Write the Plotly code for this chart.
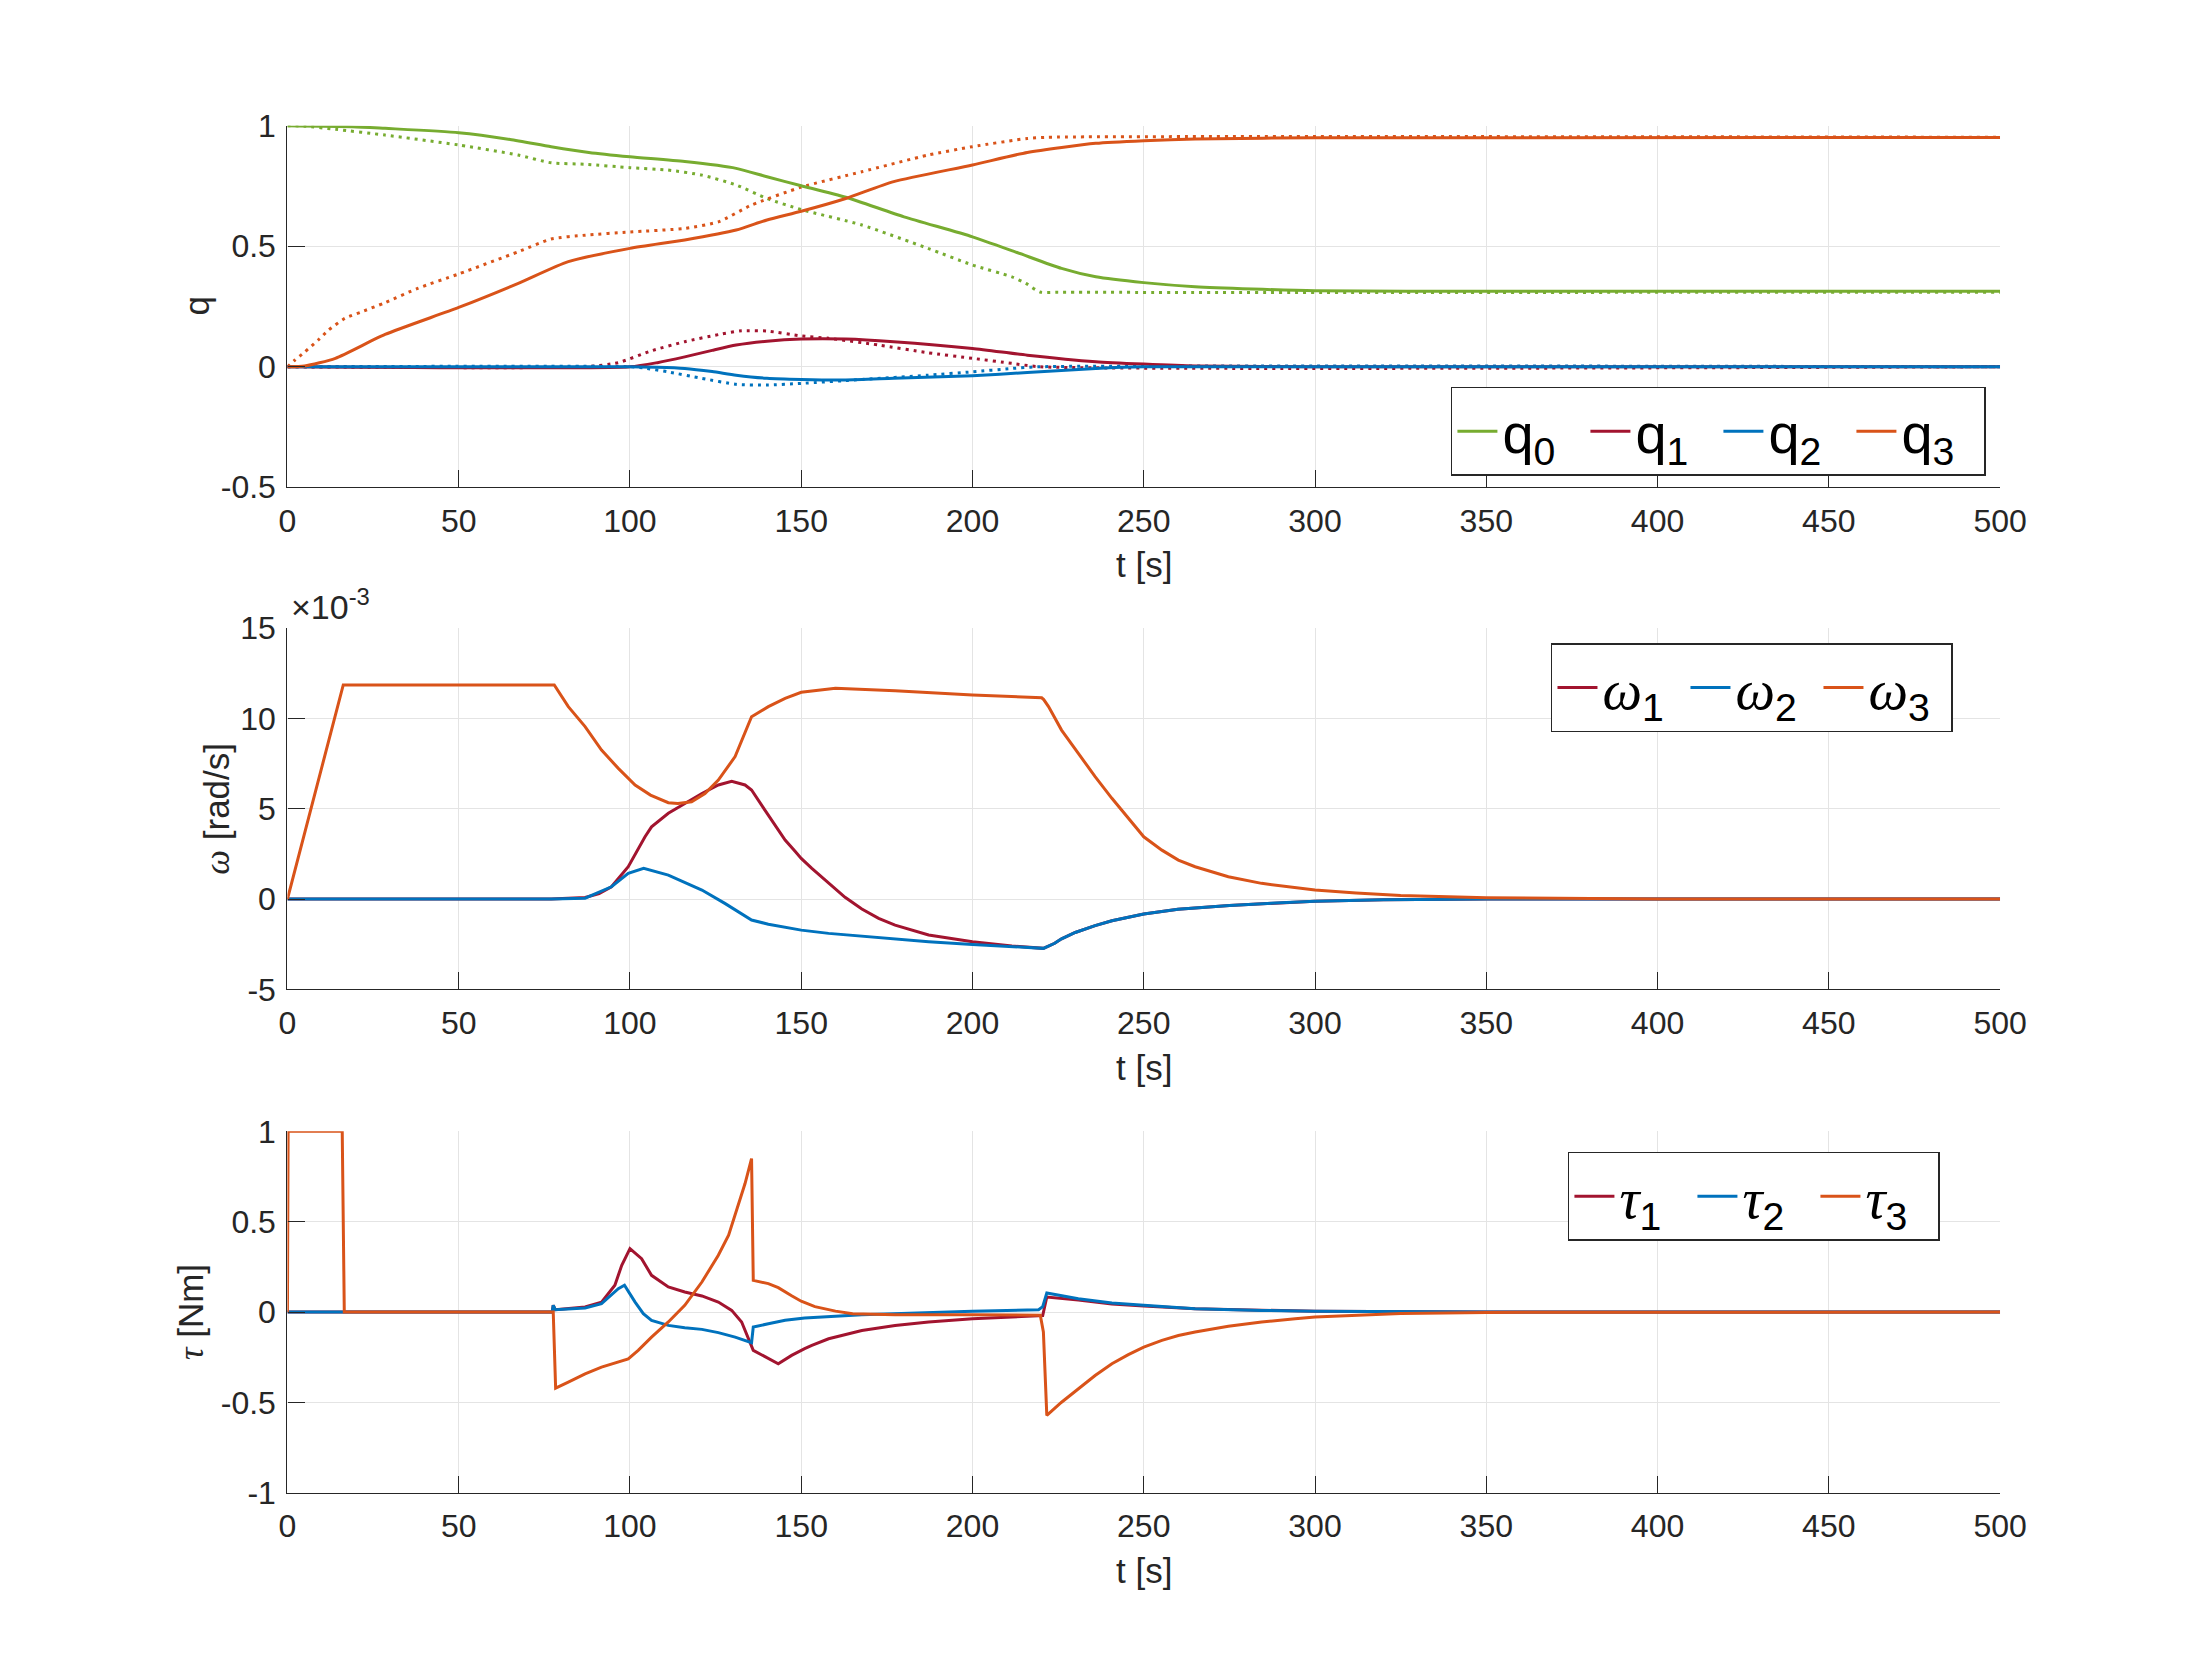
import plotly.graph_objects as go

# ---------------- data ----------------
# Quaternion panel: solid = actual, dotted = reference
t_q0 = [0, 19, 28.5, 50, 65, 77, 88, 100, 116, 131, 140, 150, 163, 180, 200, 213, 226, 236, 250, 265, 300, 350, 500]
q0 = [1.0, 0.996, 0.989, 0.971, 0.943, 0.913, 0.889, 0.871, 0.851, 0.823, 0.788, 0.751, 0.703, 0.622, 0.539, 0.474, 0.408, 0.373, 0.349, 0.332, 0.315, 0.313, 0.313]
t_q0r = [0, 5, 14, 28.5, 50, 67.4, 77, 87, 100, 111, 121, 131, 140, 150, 167.7, 187, 200, 211.5, 215.6, 219.7, 225, 500]
q0r = [1.0, 0.998, 0.985, 0.961, 0.920, 0.878, 0.846, 0.840, 0.826, 0.816, 0.795, 0.754, 0.698, 0.652, 0.588, 0.491, 0.422, 0.373, 0.346, 0.310, 0.309, 0.309]

t_q1 = [0, 100, 108, 116, 124, 131, 140, 150, 163, 177, 200, 216, 236, 250, 265, 300, 500]
q1 = [0, 0, 0.017, 0.041, 0.068, 0.090, 0.106, 0.115, 0.115, 0.104, 0.076, 0.048, 0.021, 0.011, 0.003, 0, 0]
t_q1r = [0, 87, 96.6, 106, 116, 126, 132.6, 140, 150, 158, 172.6, 187, 200, 211.5, 219.7, 500]
q1r = [0, 0, 0.017, 0.065, 0.104, 0.134, 0.149, 0.148, 0.128, 0.118, 0.090, 0.058, 0.035, 0.014, 0, 0]

t_q2 = [0, 100, 108, 116, 124, 131, 140, 150, 163, 177, 200, 216, 236, 250, 500]
q2 = [0, 0, -0.002, -0.007, -0.020, -0.035, -0.048, -0.053, -0.055, -0.048, -0.037, -0.024, -0.007, 0, 0]
t_q2r = [0, 100, 104, 111, 121, 131, 140, 150, 167.7, 187, 200, 211.5, 219.7, 500]
q2r = [0, 0, -0.005, -0.021, -0.048, -0.073, -0.076, -0.069, -0.053, -0.035, -0.021, -0.007, 0, 0]

t_q3 = [0, 5, 14, 28.5, 50, 67.4, 82, 100, 116, 131, 140, 150, 163, 177, 200, 216, 236, 250, 265, 300, 500]
q3 = [0, 0.003, 0.035, 0.134, 0.246, 0.346, 0.436, 0.491, 0.526, 0.567, 0.609, 0.645, 0.698, 0.768, 0.837, 0.889, 0.927, 0.938, 0.945, 0.950, 0.951]
t_q3r = [0, 2.2, 5.1, 9, 12, 16.8, 21.7, 28.5, 38, 50, 67.4, 77, 87, 100, 116, 126, 135.5, 150, 167.7, 187, 200, 216, 222, 500]
q3r = [0, 0.028, 0.062, 0.111, 0.152, 0.201, 0.228, 0.266, 0.325, 0.385, 0.477, 0.530, 0.546, 0.559, 0.574, 0.602, 0.671, 0.745, 0.809, 0.878, 0.913, 0.947, 0.952, 0.952]

# Angular rate panel (units of 1e-3 rad/s)
t_w1 = [0, 77, 86.9, 91, 94.6, 99.5, 104.4, 106.3, 111.2, 116, 121, 125.8, 129.7, 133.6, 135.5, 139.4, 145.3, 148.2, 150, 153.1, 158, 162.8, 167.7, 172.6, 177.4, 187.2, 200, 211.5, 220.7,
        224, 226, 230, 235.8, 240.7, 250, 260, 275, 290, 300, 320, 350, 500]
w1 = [0, 0, 0.09, 0.30, 0.68, 1.79, 3.45, 4.00, 4.75, 5.30, 5.85, 6.32, 6.52, 6.32, 6.04, 4.93, 3.27, 2.65, 2.25, 1.70, 0.87, 0.10, -0.55, -1.07, -1.44, -1.99, -2.36, -2.60, -2.73,
      -2.45, -2.20, -1.85, -1.47, -1.20, -0.83, -0.57, -0.35, -0.20, -0.12, -0.04, 0, 0]
t_w2 = [0, 77, 86.9, 94.6, 99.5, 104, 111.2, 121, 127.7, 135.5, 140.4, 145.3, 150, 158, 167.7, 177.4, 187.2, 200, 211.5, 220.7,
        224, 226, 230, 235.8, 240.7, 250, 260, 275, 290, 300, 320, 350, 500]
w2 = [0, 0, 0.05, 0.68, 1.42, 1.70, 1.33, 0.50, -0.24, -1.16, -1.39, -1.56, -1.72, -1.90, -2.05, -2.22, -2.36, -2.51, -2.64, -2.73,
      -2.45, -2.20, -1.85, -1.47, -1.20, -0.83, -0.57, -0.35, -0.20, -0.12, -0.04, 0, 0]
t_w3 = [0, 16.3, 77.9, 82, 86.9, 91.7, 96.6, 101.5, 106, 111.2, 114, 118, 121.9, 125.8, 130.7, 135.5, 140.4, 145.3, 150, 160, 177.4, 200, 220.2, 220.8,
        222.2, 224.1, 226, 230.9, 235.8, 240.7, 245.5, 250, 255.3, 260.1, 265, 274.7, 284.4, 294.2, 300, 312, 325, 350, 375, 400, 500]
w3 = [0, 11.86, 11.86, 10.66, 9.55, 8.25, 7.24, 6.32, 5.76, 5.34, 5.30, 5.39, 5.85, 6.59, 7.89, 10.10, 10.66, 11.12, 11.45, 11.67, 11.54, 11.30, 11.15, 11.05,
      10.66, 10.01, 9.36, 8.07, 6.78, 5.58, 4.47, 3.45, 2.71, 2.16, 1.79, 1.24, 0.87, 0.63, 0.50, 0.33, 0.20, 0.07, 0.02, 0, 0]

# Torque panel (Nm)
t_u1 = [0, 77.3, 77.6, 78.2, 86.9, 91.7, 95.6, 97.6, 100, 103.4, 106.3, 111.2, 116, 121, 125.8, 129.7, 132.6, 135, 136, 143.3, 147.2, 151, 153.1, 158, 162.8, 167.7, 177.4, 187.2, 200, 218.3, 220.5, 221.7,
        230.9, 240.7, 250, 265, 284.4, 300, 350, 500]
u1 = [0, 0, 0.037, 0.013, 0.028, 0.055, 0.148, 0.259, 0.351, 0.295, 0.203, 0.139, 0.111, 0.089, 0.055, 0.009, -0.055, -0.166, -0.212, -0.286, -0.240, -0.203, -0.185, -0.148, -0.124, -0.102, -0.074, -0.055, -0.037, -0.024, -0.020, 0.083,
      0.067, 0.045, 0.033, 0.018, 0.009, 0.004, 0, 0]
t_u2 = [0, 77.3, 77.6, 78.2, 86.9, 91.7, 96.6, 98.4, 101.5, 103.9, 106.3, 111.2, 116, 121, 125.8, 130.7, 135.5, 136, 140.4, 145.3, 151, 167.7, 200, 219.3, 220.5, 221.7,
        230.9, 240.7, 250, 265, 284.4, 300, 350, 500]
u2 = [0, 0, 0.037, 0.013, 0.022, 0.046, 0.129, 0.148, 0.055, -0.009, -0.046, -0.074, -0.087, -0.096, -0.114, -0.139, -0.170, -0.083, -0.065, -0.046, -0.033, -0.015, 0.004, 0.013, 0.030, 0.105,
      0.074, 0.050, 0.037, 0.018, 0.009, 0.004, 0, 0]
t_u3 = [0, 0.2, 16.0, 16.6, 77.6, 78.3, 82, 86.9, 91.7, 96.6, 99.5, 102.4, 106.3, 111.2, 116, 121, 125.8, 128.8, 130.7, 133.6, 135.5, 136.0, 140.4, 143.3, 147.2, 150, 154, 160, 165, 177.4, 200, 218.3, 219.8, 220.7, 221.7,
        226, 230.9, 235.8, 240.7, 245.5, 250, 255.3, 260.1, 265, 274.7, 284.4, 294.2, 300, 325, 350, 500]
u3 = [0, 1, 1, 0, 0, -0.421, -0.388, -0.342, -0.305, -0.277, -0.259, -0.212, -0.139, -0.055, 0.037, 0.166, 0.314, 0.425, 0.536, 0.711, 0.849, 0.175, 0.157, 0.135, 0.090, 0.060, 0.030, 0.005, -0.010, -0.015, -0.015, -0.017, -0.018, -0.110, -0.572,
      -0.499, -0.425, -0.351, -0.286, -0.236, -0.194, -0.157, -0.130, -0.111, -0.079, -0.055, -0.037, -0.028, -0.008, -0.002, 0]

x_ticks = [0, 50, 100, 150, 200, 250, 300, 350, 400, 450, 500]
x_ticktext = ["0", "50", "100", "150", "200", "250", "300", "350", "400", "450", "500"]
q_ticks = [-0.5, 0, 0.5, 1]
q_ticktext = ["-0.5", "0", "0.5", "1"]
w_ticks = [-5, 0, 5, 10, 15]
w_ticktext = ["-5", "0", "5", "10", "15"]
u_ticks = [-1, -0.5, 0, 0.5, 1]
u_ticktext = ["-1", "-0.5", "0", "0.5", "1"]

# ---------------- styling ----------------
C0 = "#77AC30"
C1 = "#A2142F"
C2 = "#0072BD"
C3 = "#D95319"
AX = "#262626"
GRID = "#e4e4e4"
FONT = "Liberation Sans"
SERIF = "Liberation Serif"
LW = 3
DOT = "3px,5px"

fig = go.Figure()


def add(x, y, color, xa, ya, name=None, legend=None, dash=None, shape="linear"):
    fig.add_trace(go.Scatter(
        x=x, y=y, mode="lines", name=name or "",
        line=dict(color=color, width=LW, dash=dash, shape=shape, smoothing=0.6),
        xaxis=xa, yaxis=ya, showlegend=name is not None,
        legend=legend, hoverinfo="skip"))


# Panel 1 (dotted references first, solid on top)
add(t_q0r, q0r, C0, "x", "y", dash=DOT, shape="spline")
add(t_q1r, q1r, C1, "x", "y", dash=DOT, shape="spline")
add(t_q2r, q2r, C2, "x", "y", dash=DOT, shape="spline")
add(t_q3r, q3r, C3, "x", "y", dash=DOT, shape="spline")
add(t_q0, q0, C0, "x", "y", "q<sub>0</sub>", "legend", shape="spline")
add(t_q1, q1, C1, "x", "y", "q<sub>1</sub>", "legend", shape="spline")
add(t_q2, q2, C2, "x", "y", "q<sub>2</sub>", "legend", shape="spline")
add(t_q3, q3, C3, "x", "y", "q<sub>3</sub>", "legend", shape="spline")

sym_w = "<span style=\"font-family:'%s'\"><i>ω</i></span>" % SERIF
sym_t = "<span style=\"font-family:'%s'\"><i>τ</i></span>" % SERIF

# Panel 2
add(t_w1, w1, C1, "x2", "y2", sym_w + "<sub>1</sub>", "legend2")
add(t_w2, w2, C2, "x2", "y2", sym_w + "<sub>2</sub>", "legend2")
add(t_w3, w3, C3, "x2", "y2", sym_w + "<sub>3</sub>", "legend2")

# Panel 3
add(t_u1, u1, C1, "x3", "y3", sym_t + "<sub>1</sub>", "legend3")
add(t_u2, u2, C2, "x3", "y3", sym_t + "<sub>2</sub>", "legend3")
add(t_u3, u3, C3, "x3", "y3", sym_t + "<sub>3</sub>", "legend3")

XD = [0.1300, 0.9046]
DOMS = [[0.7096, 0.9251], [0.4104, 0.6256], [0.1104, 0.3258]]


def xaxis(anchor):
    return dict(domain=XD, range=[0, 500], anchor=anchor, tickmode="array",
                tickvals=x_ticks, ticktext=x_ticktext, ticks="inside", ticklen=17,
                tickwidth=1.3, tickcolor=AX, showline=True, linecolor=AX, linewidth=1.3,
                showgrid=True, gridcolor=GRID, gridwidth=1.3, zeroline=False,
                ticklabelstandoff=5,
                automargin=False, tickfont=dict(family=FONT, size=32, color=AX))


def yaxis(anchor, dom, rng, tv, tt):
    return dict(domain=dom, range=rng, anchor=anchor, tickmode="array",
                tickvals=tv, ticktext=tt, ticks="inside", ticklen=17,
                tickwidth=1.3, tickcolor=AX, showline=True, linecolor=AX, linewidth=1.3,
                showgrid=True, gridcolor=GRID, gridwidth=1.3, zeroline=False,
                ticklabelstandoff=4,
                automargin=False, tickfont=dict(family=FONT, size=32, color=AX))


def leg(xr, yt, ew):
    return dict(x=xr, y=yt, xanchor="right", yanchor="top", orientation="h",
                bgcolor="white", bordercolor=AX, borderwidth=1.5,
                entrywidth=ew, entrywidthmode="pixels", itemwidth=40,
                font=dict(family=FONT, size=56, color="black"))


annotations = []
for yc in [0.6633, 0.3641, 0.0638]:
    annotations.append(dict(text="t [s]", x=0.5173, y=yc, xref="paper", yref="paper",
                            xanchor="center", yanchor="middle", showarrow=False,
                            font=dict(family=FONT, size=35, color=AX)))
annotations.append(dict(text="q", x=0.0891, y=0.8173, xref="paper", yref="paper",
                        xanchor="center", yanchor="middle", textangle=-90, showarrow=False,
                        font=dict(family=FONT, size=35, color=AX)))
annotations.append(dict(text=sym_w + " [rad/s]", x=0.0981, y=0.518, xref="paper", yref="paper",
                        xanchor="center", yanchor="middle", textangle=-90, showarrow=False,
                        font=dict(family=FONT, size=35, color=AX)))
annotations.append(dict(text=sym_t + " [Nm]", x=0.0864, y=0.2181, xref="paper", yref="paper",
                        xanchor="center", yanchor="middle", textangle=-90, showarrow=False,
                        font=dict(family=FONT, size=35, color=AX)))
annotations.append(dict(text="×10<sup>-3</sup>", x=0.1305, y=0.6257, xref="paper", yref="paper",
                        xanchor="left", yanchor="bottom", showarrow=False,
                        font=dict(family=FONT, size=34, color=AX)))

fig.update_layout(
    width=2211, height=1678,
    margin=dict(l=0, r=0, t=0, b=0, pad=0, autoexpand=False),
    paper_bgcolor="white", plot_bgcolor="white",
    xaxis=xaxis("y"), xaxis2=xaxis("y2"), xaxis3=xaxis("y3"),
    yaxis=yaxis("x", DOMS[0], [-0.5, 1], q_ticks, q_ticktext),
    yaxis2=yaxis("x2", DOMS[1], [-5, 15], w_ticks, w_ticktext),
    yaxis3=yaxis("x3", DOMS[2], [-1, 1], u_ticks, u_ticktext),
    legend=leg(0.8982, 0.7694, 78),
    legend2=leg(0.8833, 0.6168, 78),
    legend3=leg(0.8774, 0.3135, 68),
    annotations=annotations,
    font=dict(family=FONT, color=AX),
)

fig.write_html("out.html")
